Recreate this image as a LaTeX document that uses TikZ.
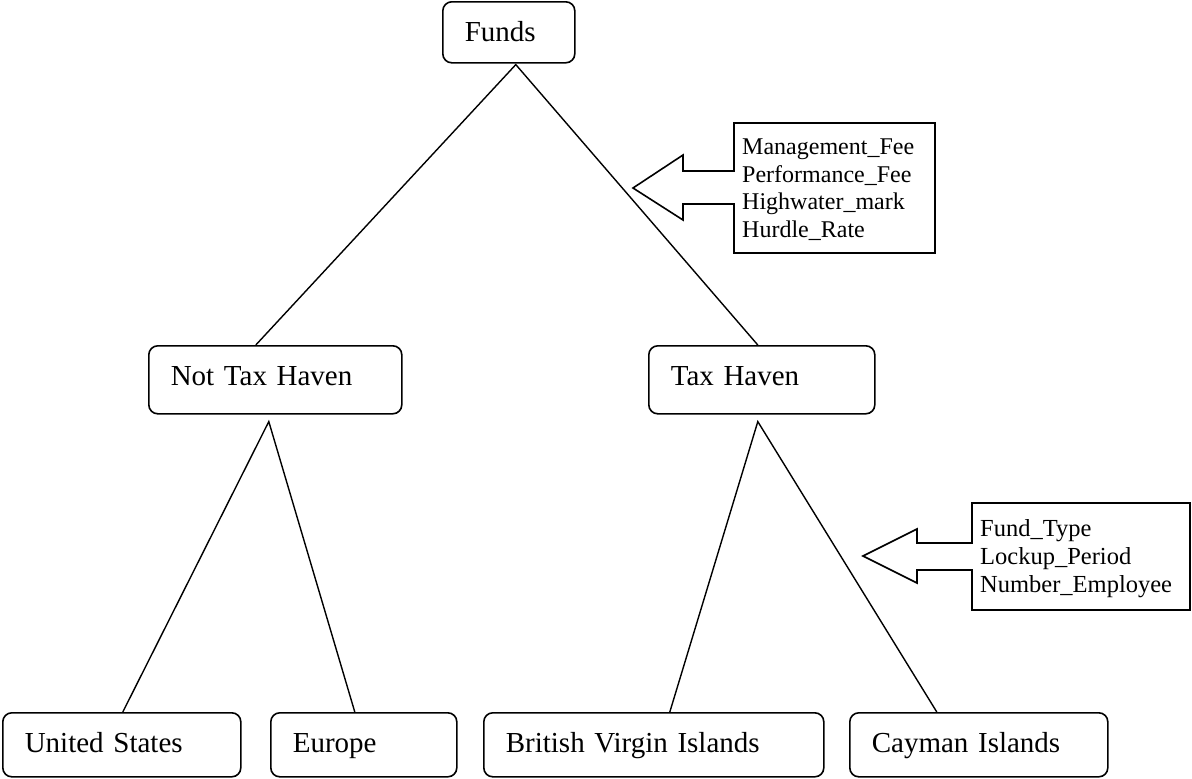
\documentclass[tikz,border=0pt]{standalone}
\usepackage{fontspec}
\setmainfont{Liberation Serif}
\begin{document}
\begin{tikzpicture}[x=1pt,y=-1pt,
  tbox/.style={draw, rounded corners=9pt, line width=1.6pt, anchor=north west,
    inner xsep=22pt, inner ysep=0pt, font=\fontsize{29}{34}\selectfont,
    text height=40pt, align=left},
  link/.style={line width=1.4pt},
  note/.style={line width=1.6pt, line join=miter},
  notetext/.style={anchor=north west, inner sep=0pt, align=left}
]
\useasboundingbox (0,0) rectangle (1192,779);

% boxes
\node[tbox, text width=88pt,  text depth=21pt] (funds) at (442,1)   {Funds};
\node[tbox, text width=209pt, text depth=28pt] (nth)   at (148,345) {Not Tax Haven};
\node[tbox, text width=182pt, text depth=28pt] (th)    at (648,345) {Tax Haven};
\node[tbox, text width=194pt, text depth=24pt] (us)    at (2,712)   {United States};
\node[tbox, text width=142pt, text depth=24pt] (eu)    at (270,712) {Europe};
\node[tbox, text width=296pt, text depth=24pt] (bvi)   at (483,712) {British Virgin Islands};
\node[tbox, text width=214pt, text depth=24pt] (cay)   at (849,712) {Cayman Islands};

% connectors
\coordinate (fa) at ([xshift=7pt,yshift=-1pt]funds.south);
\draw[link] ([xshift=-19.5pt]nth.north) -- (fa) -- ([xshift=-4pt]th.north);
\coordinate (na) at ([xshift=-6.5pt,yshift=-7pt]nth.south);
\draw[link] ([xshift=1pt]us.north) -- (na) -- ([xshift=-9pt]eu.north);
\coordinate (ta) at ([xshift=-4pt,yshift=-7pt]th.south);
\draw[link] ([xshift=16pt]bvi.north) -- (ta) -- ([xshift=-42pt]cay.north);

% callout 1
\draw[note] (734,123) -- (935,123) -- (935,253) -- (734,253) -- (734,204)
  -- (683,204) -- (683,220) -- (633,188) -- (683,155) -- (683,171) -- (734,171) -- cycle;
\node[notetext, font=\fontsize{24}{27.5}\selectfont] (fees) at (742,139)
  {Management\_Fee\\Performance\_Fee\\Highwater\_mark\\Hurdle\_Rate};

% callout 2
\draw[note] (972,503) -- (1190,503) -- (1190,610) -- (972,610) -- (972,570)
  -- (917,570) -- (917,583) -- (863,556) -- (917,529) -- (917,543) -- (972,543) -- cycle;
\node[notetext, font=\fontsize{24.5}{28}\selectfont] (attrs) at (980,519)
  {Fund\_Type\\Lockup\_Period\\Number\_Employee};
\end{tikzpicture}
\end{document}
